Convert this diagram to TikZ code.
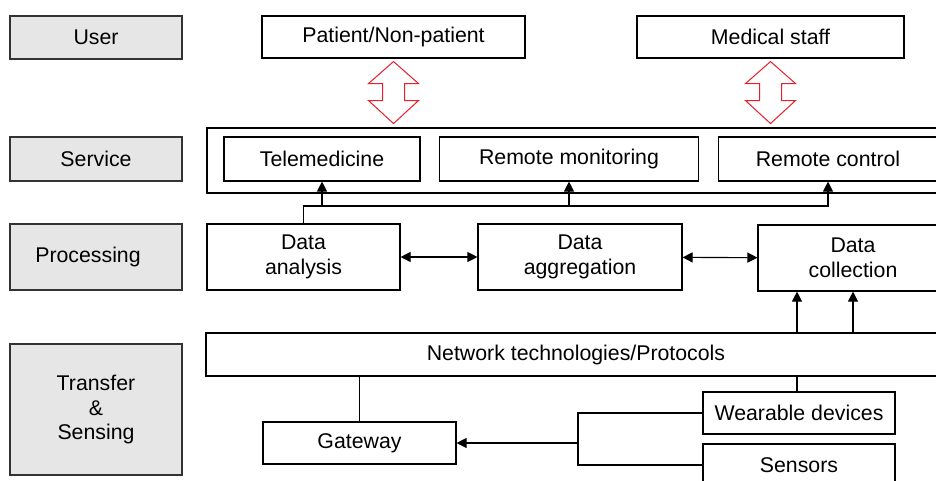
\documentclass[tikz,border=0pt]{standalone}
\usepackage{fontspec}
\setmainfont{Liberation Sans}
\usetikzlibrary{arrows.meta}
\definecolor{layergray}{RGB}{230,230,230}
\definecolor{arrowred}{RGB}{232,30,40}
\tikzset{>={Triangle[length=10pt,width=10pt]},
    layer/.style={draw=black!80,fill=layergray,align=center,inner sep=0pt},
    block/.style={draw,align=center,inner sep=0pt},
    userarrow/.style={draw=arrowred,line width=1pt,fill=white,line join=miter}}

\begin{document}
\begin{tikzpicture}
[x=1pt,y=-1pt,line width=1.1pt,font=\fontsize{21.3}{24.5}\selectfont]
\useasboundingbox (0,0) rectangle (936,480);
\clip (0,0) rectangle (936,480);

% layer names
\node[layer,minimum width=172,minimum height=43] (user) at (96,37.5) {User};
\node[layer,minimum width=172,minimum height=44] (service) at (96,159) {Service};
\node[layer,minimum width=172,minimum height=66] (processing) at (96,257) {Processing\hspace*{16pt}};
\node[layer,minimum width=172,minimum height=131] (transfer) at (96,409.5) {Transfer\\\&\\Sensing};

% users
\node[block,minimum width=263,minimum height=42] (patient) at (393.5,37) {Patient/Non-patient};
\node[block,minimum width=267,minimum height=42] (staff) at (770.5,37) {Medical staff};

% services
\node[block,minimum width=740,minimum height=65] (svc) at (577,160.5) {};
\node[block,minimum width=196,minimum height=44] (tele) at (322,159) {Telemedicine};
\node[block,minimum width=259,minimum height=44] (remmon) at (569,159) {Remote monitoring};
\node[block,minimum width=219,minimum height=44] (remctl) at (828,159) {Remote control};

% processing
\node[block,minimum width=193,minimum height=66] (datan) at (303.5,257) {Data\\analysis};
\node[block,minimum width=204,minimum height=66] (datagg) at (580,257) {Data\\aggregation};
\node[block,minimum width=190,minimum height=66] (datcol) at (853,258) {Data\\collection};

% transfer and sensing
\node[block,minimum width=740,minimum height=43] (netw) at (576,354.5) {Network technologies/Protocols};
\node[block,minimum width=193,minimum height=42] (gateway) at (359.5,443) {Gateway};
\node[block,minimum width=192,minimum height=42] (wear) at (799,413) {Wearable devices};
\node[block,minimum width=192,minimum height=42] (sens) at (799,465) {Sensors};

\coordinate (bus) at (0,206);
\coordinate (tapA) at (797,0);
\coordinate (join) at (578,443);

% user <-> service
\foreach \who in {patient,staff}
    \draw[userarrow] ([yshift=-3pt]\who.south) -- ++(25,22) -- ++(-14,0) -- ++(0,17)
        -- ++(14,0) -- ++(-25,23) -- ++(-25,-23) -- ++(14,0) -- ++(0,-17) -- ++(-14,0) -- cycle;

% processing -> services
\draw[->] (datan.north) -- (datan.north |- bus) -| (remctl.south);
\draw[->] (tele.south |- bus) -- (tele.south);
\draw[->] (remmon.south |- bus) -- (remmon.south);

\draw[<->] (datan) -- (datagg);
\draw[<->] (datagg) -- (datcol);

% network -> collection
\draw[->] (tapA |- netw.north) -- (tapA |- datcol.south);
\draw[->] (datcol.south |- netw.north) -- (datcol.south);

\draw (gateway.north) -- (gateway.north |- netw.south);
\draw (tapA |- netw.south) -- (tapA |- wear.north);
\draw (wear.west) -| (join) |- (sens.west);
\draw[->] (join) -- (gateway.east);
\end{tikzpicture}
\end{document}
